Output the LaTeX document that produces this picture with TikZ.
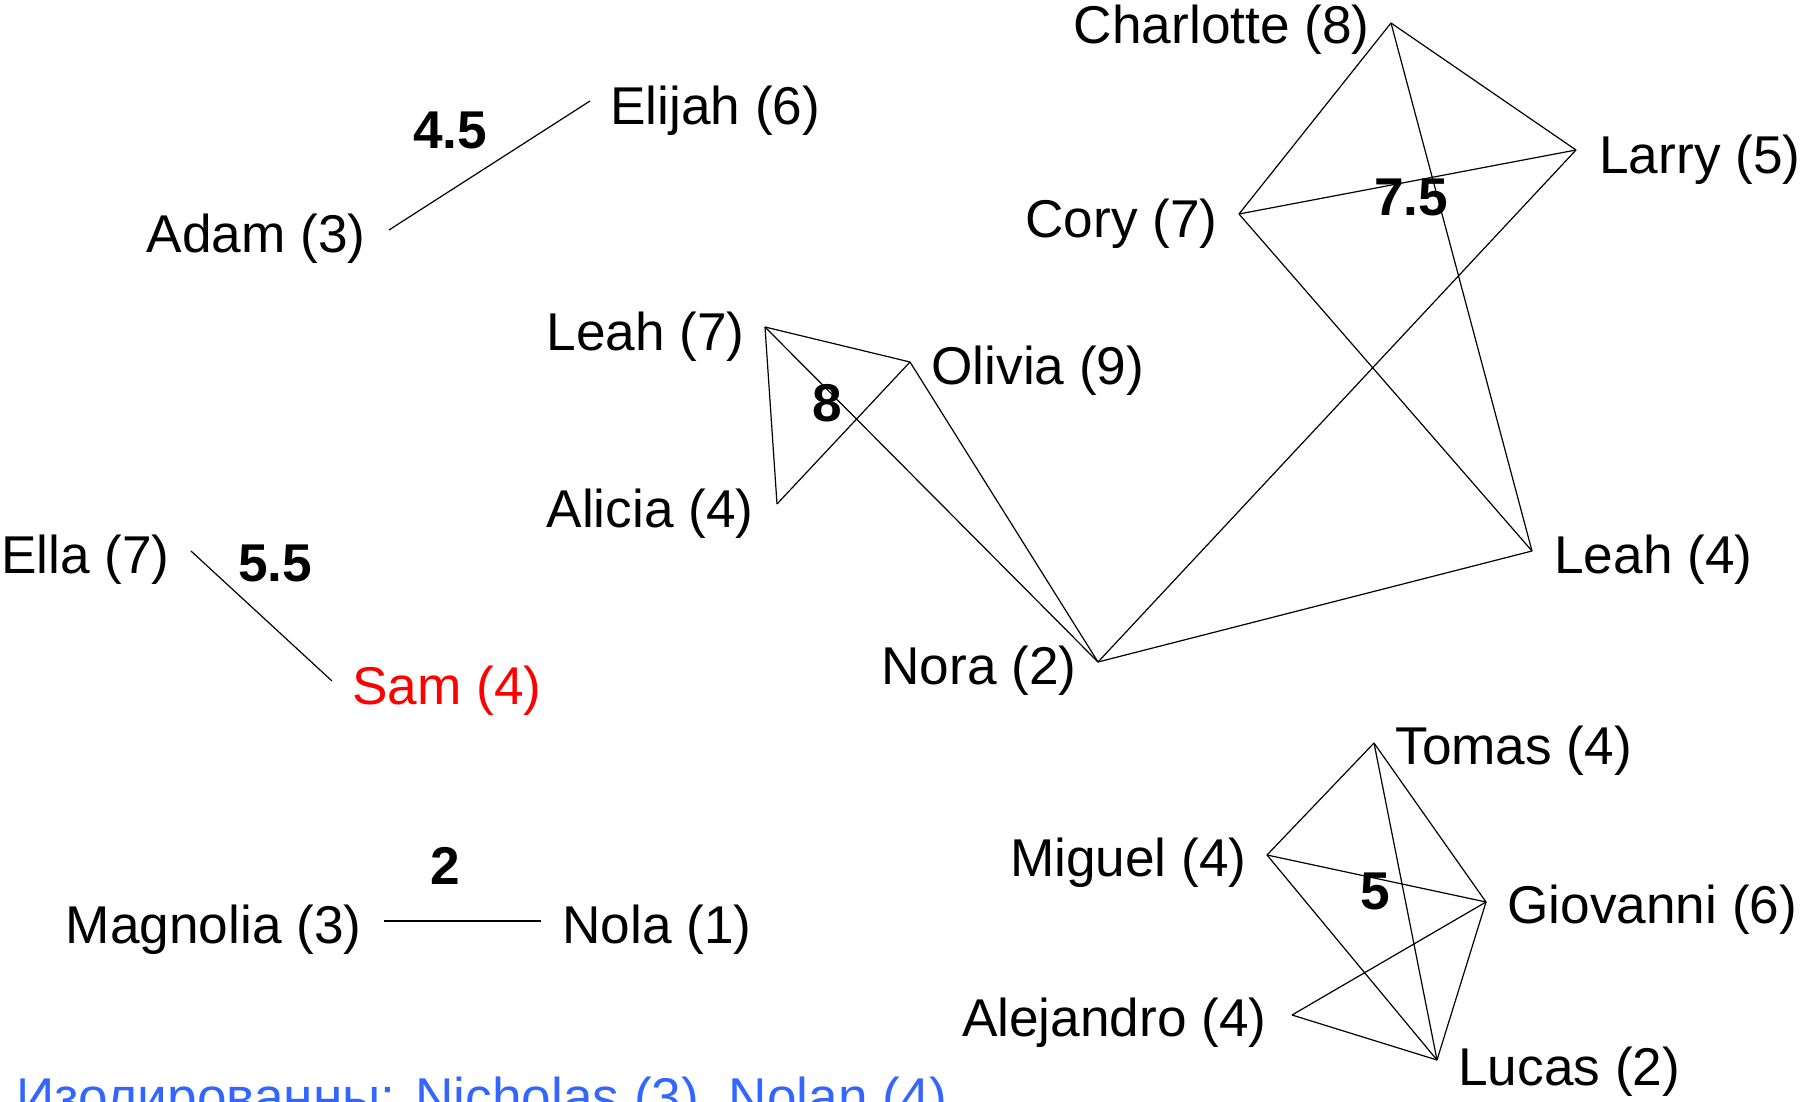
\documentclass[tikz,border=0pt]{standalone}
\usepackage{fontspec}
\setmainfont{Liberation Sans}
\usetikzlibrary{positioning}

\definecolor{isoblue}{RGB}{51,102,255}

\begin{document}
\begin{tikzpicture}[x=0.5pt, y=-0.5pt,
    lbl/.style={inner sep=0pt, font=\fontsize{26.6}{30}\selectfont},
    weight/.style={inner sep=0pt, font=\fontsize{26.6}{30}\selectfont\bfseries},
    edge/.style={line width=0.6pt}]
            \useasboundingbox (0,0) rectangle (1806,1102);

            % vertices
            \coordinate (adam) at (389,230);
            \coordinate (elijah) at (590,101);
            \coordinate (ella) at (191,551);
            \coordinate (sam) at (332,681);
            \coordinate (magnolia) at (384,921);
            \coordinate (nola) at (541,921);
            \coordinate (leah7) at (765,327);
            \coordinate (olivia) at (910,362);
            \coordinate (alicia) at (777,504);
            \coordinate (nora) at (1098,662);
            \coordinate (cory) at (1239,214);
            \coordinate (charlotte) at (1391,23);
            \coordinate (larry) at (1576,150);
            \coordinate (leah4) at (1532,551);
            \coordinate (tomas) at (1374,743);
            \coordinate (miguel) at (1267,855);
            \coordinate (giovanni) at (1486,902);
            \coordinate (alejandro) at (1292,1015);
            \coordinate (lucas) at (1437,1060);

            % names
            \node [lbl, anchor=east] (adam_name) at (366,239) {Adam (3)};
            \node [lbl, anchor=west] (elijah_name) at (610,111) {Elijah (6)};
            \node [lbl, anchor=east] (ella_name) at (170,560) {Ella (7)};
            \node [lbl, anchor=west, text=red] (sam_name) at (352,691) {Sam (4)};
            \node [lbl, anchor=east] (magnolia_name) at (362,930) {Magnolia (3)};
            \node [lbl, anchor=west] (nola_name) at (562,930) {Nola (1)};
            \node [lbl, anchor=east] (leah7_name) at (745,337) {Leah (7)};
            \node [lbl, anchor=west] (olivia_name) at (931,371) {Olivia (9)};
            \node [lbl, anchor=east] (alicia_name) at (754,514) {Alicia (4)};
            \node [lbl, anchor=east] (nora_name) at (1077,671) {Nora (2)};
            \node [lbl, anchor=east] (cory_name) at (1218,224) {Cory (7)};
            \node [lbl, anchor=east] (charlotte_name) at (1370,30) {Charlotte (8)};
            \node [lbl, anchor=west] (larry_name) at (1599,160) {Larry (5)};
            \node [lbl, anchor=west] (leah4_name) at (1554,560) {Leah (4)};
            \node [lbl, anchor=west] (tomas_name) at (1395,751) {Tomas (4)};
            \node [lbl, anchor=east] (miguel_name) at (1247,863) {Miguel (4)};
            \node [lbl, anchor=west] (giovanni_name) at (1507,910) {Giovanni (6)};
            \node [lbl, anchor=east] (alejandro_name) at (1267,1023) {Alejandro (4)};
            \node [lbl, anchor=west] (lucas_name) at (1458,1072) {Lucas (2)};

            % group weights
            \node [weight] (w_adam) at (450,130) {4.5};
            \node [weight] (w_ella) at (275,563) {5.5};
            \node [weight] (w_magnolia) at (445,866) {2};
            \node [weight] (w_leah) at (827,403) {8};
            \node [weight] (w_cory) at (1411,197) {7.5};
            \node [weight] (w_miguel) at (1375,891) {5};

            \draw [edge] (adam) -- (elijah);
            \draw [edge] (ella) -- (sam);
            \draw [edge] (magnolia) -- (nola);

            \draw [edge] (leah7) -- (olivia);
            \draw [edge] (leah7) -- (alicia);
            \draw [edge] (leah7) -- (nora);
            \draw [edge] (olivia) -- (alicia);
            \draw [edge] (olivia) -- (nora);
            \draw [edge] (nora) -- (larry);
            \draw [edge] (nora) -- (leah4);
            \draw [edge] (cory) -- (charlotte);
            \draw [edge] (cory) -- (larry);
            \draw [edge] (cory) -- (leah4);
            \draw [edge] (charlotte) -- (larry);
            \draw [edge] (charlotte) -- (leah4);

            \draw [edge] (tomas) -- (miguel);
            \draw [edge] (tomas) -- (giovanni);
            \draw [edge] (tomas) -- (lucas);
            \draw [edge] (miguel) -- (giovanni);
            \draw [edge] (miguel) -- (lucas);
            \draw [edge] (giovanni) -- (alejandro);
            \draw [edge] (giovanni) -- (lucas);
            \draw [edge] (alejandro) -- (lucas);

            % isolated
            \node [lbl, anchor=base west, text=isoblue] (isolated) at (16,1115) {Изолированны: Nicholas (3), Nolan (4)};
\end{tikzpicture}
\end{document}
